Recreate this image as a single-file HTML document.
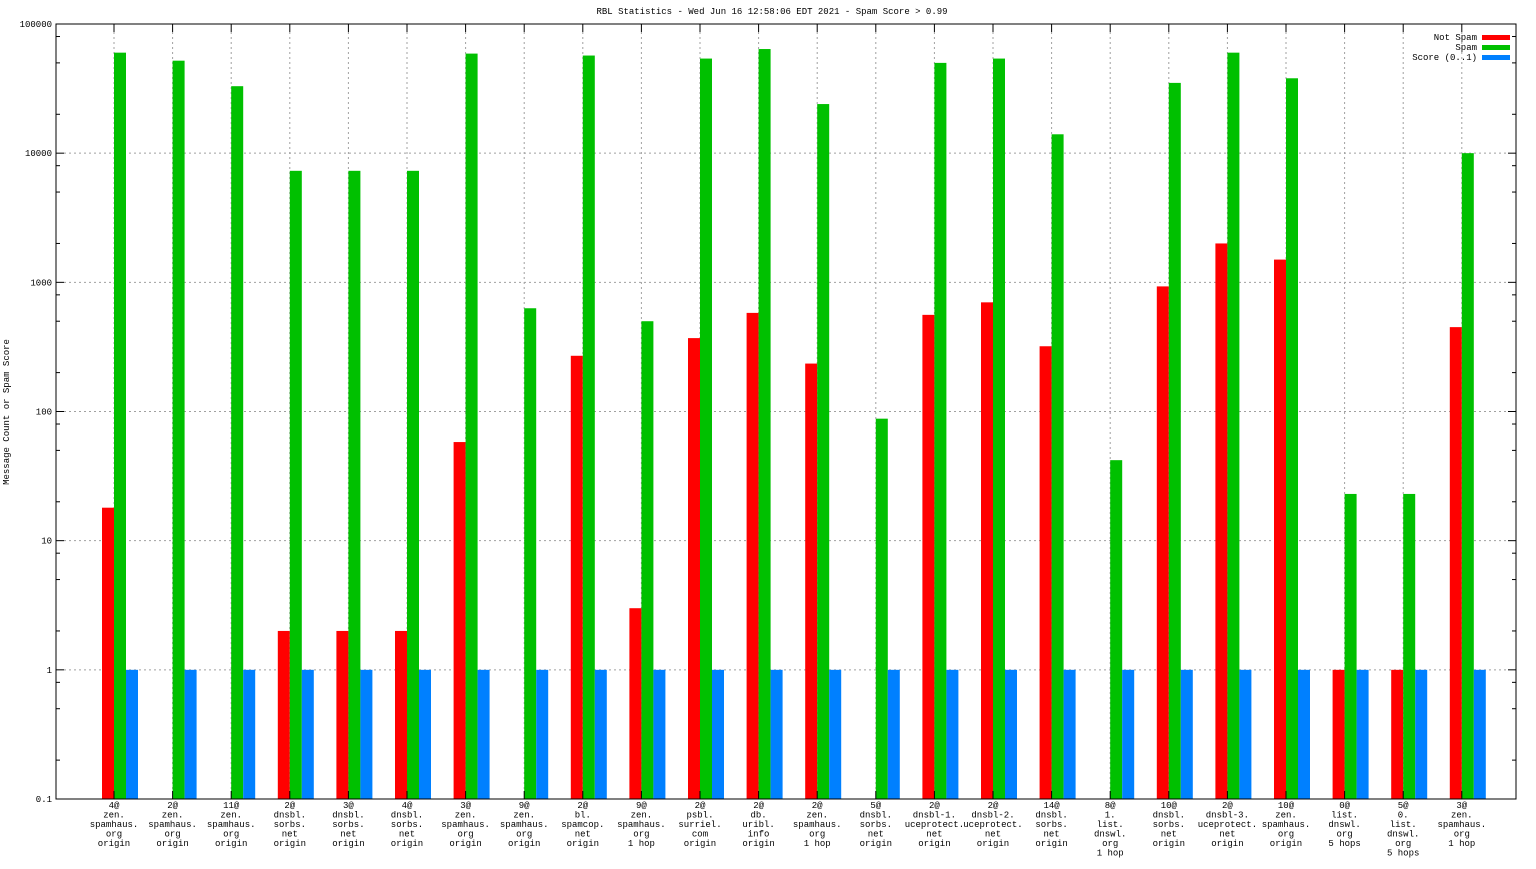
<!DOCTYPE html>
<html><head><meta charset="utf-8"><style>
body{margin:0;background:#fff;}
svg text{font-family:"Liberation Mono","DejaVu Sans Mono",monospace;font-size:9px;fill:#000;}
</style></head><body>
<svg id="chart" width="1536" height="864" xmlns="http://www.w3.org/2000/svg">
<rect width="1536" height="864" fill="#fff"/>
<text x="772" y="14" text-anchor="middle">RBL Statistics - Wed Jun 16 12:58:06 EDT 2021 - Spam Score &gt; 0.99</text>
<text transform="translate(9,412) rotate(-90)" text-anchor="middle">Message Count or Spam Score</text>
<g id="grid"></g><g id="bars"></g><g id="axes"></g>
<g>
<text x="1477" y="40" text-anchor="end">Not Spam</text>
<rect x="1482" y="35" width="28" height="5" fill="#ff0000"/>
<text x="1477" y="50" text-anchor="end">Spam</text>
<rect x="1482" y="45" width="28" height="5" fill="#00c000"/>
<text x="1477" y="60" text-anchor="end">Score (0..1)</text>
<rect x="1482" y="55" width="28" height="5" fill="#0080ff"/>
</g>
</svg>
<script>
const categories=[
["4@","zen.","spamhaus.","org","origin"],["2@","zen.","spamhaus.","org","origin"],["11@","zen.","spamhaus.","org","origin"],
["2@","dnsbl.","sorbs.","net","origin"],["3@","dnsbl.","sorbs.","net","origin"],["4@","dnsbl.","sorbs.","net","origin"],
["3@","zen.","spamhaus.","org","origin"],["9@","zen.","spamhaus.","org","origin"],["2@","bl.","spamcop.","net","origin"],
["9@","zen.","spamhaus.","org","1 hop"],["2@","psbl.","surriel.","com","origin"],["2@","db.","uribl.","info","origin"],
["2@","zen.","spamhaus.","org","1 hop"],["5@","dnsbl.","sorbs.","net","origin"],["2@","dnsbl-1.","uceprotect.","net","origin"],
["2@","dnsbl-2.","uceprotect.","net","origin"],["14@","dnsbl.","sorbs.","net","origin"],["8@","1.","list.","dnswl.","org","1 hop"],
["10@","dnsbl.","sorbs.","net","origin"],["2@","dnsbl-3.","uceprotect.","net","origin"],["10@","zen.","spamhaus.","org","origin"],
["0@","list.","dnswl.","org","5 hops"],["5@","0.","list.","dnswl.","org","5 hops"],["3@","zen.","spamhaus.","org","1 hop"]];
const notSpam=[18,0,0,2,2,2,58,0,270,3,370,580,235,0,560,700,320,0,930,2000,1500,1,1,450];
const spam=[60000,52000,33000,7300,7300,7300,59000,630,57000,500,54000,64000,24000,88,50000,54000,14000,42,35000,60000,38000,23,23,10000];
const score=[1,1,1,1,1,1,1,1,1,1,1,1,1,1,1,1,1,1,1,1,1,1,1,1];
const yTicks=[0.1,1,10,100,1000,10000,100000];
const yTickLabels=["0.1","1","10","100","1000","10000","100000"];
const NS="http://www.w3.org/2000/svg";
const L=56,R=1516,T=24,B=799;
function y(v){return B-(Math.log10(v)+1)/6*(B-T);}
function gx(i){return 120+i*58.6;}
function mk(tag,attrs,parent){const e=document.createElementNS(NS,tag);for(const k in attrs)e.setAttribute(k,attrs[k]);parent.appendChild(e);return e;}
const grid=document.getElementById('grid'),bars=document.getElementById('bars'),axes=document.getElementById('axes');
yTicks.forEach((t,k)=>{const yy=y(t);
 if(k>0&&k<yTicks.length-1){const g=mk('line',{x1:L+8,x2:R-8,y1:yy,y2:yy,stroke:'#a0a0a0','stroke-dasharray':'2,3','stroke-width':1},grid);
 
 }
 const tx=mk('text',{x:L-4,y:yy+3,'text-anchor':'end'},axes);tx.textContent=yTickLabels[k];
 
 
 mk('line',{x1:L,x2:L+8,y1:yy,y2:yy,stroke:'#000'},axes);mk('line',{x1:R,x2:R-8,y1:yy,y2:yy,stroke:'#000'},axes);
 if(k<yTicks.length-1){[2,5,8].forEach(m=>{const my=y(t*m);mk('line',{x1:L,x2:L+4,y1:my,y2:my,stroke:'#000'},axes);mk('line',{x1:R,x2:R-4,y1:my,y2:my,stroke:'#000'},axes);});}
});
categories.forEach((c,i)=>{const cx=gx(i),tx=cx-6;
 const g=mk('line',{x1:tx,x2:tx,y1:T+8,y2:B-8,stroke:'#a0a0a0','stroke-dasharray':'2,3'},grid);
 
 
 mk('line',{x1:tx,x2:tx,y1:B,y2:B-8,stroke:'#000'},axes);mk('line',{x1:tx,x2:tx,y1:T,y2:T+8,stroke:'#000'},axes);
 const t=mk('text',{x:tx,y:808,'text-anchor':'middle'},axes);
 
 
 c.forEach((ln,j)=>{const s=mk('tspan',{x:tx,dy:j?9.5:0},t);s.textContent=ln;});
 [[notSpam[i],'#ff0000',cx-18,'bar-not-spam'],[spam[i],'#00c000',cx-6,'bar-spam'],[score[i],'#0080ff',cx+6,'bar-score']].forEach(([v,col,x0,nm])=>{
  if(v>0){const yy=y(v);const r=mk('rect',{x:x0,y:yy,width:12,height:B-yy,fill:col},bars);
  
  }
 });
});
const fr=mk('rect',{x:L,y:T,width:R-L,height:B-T,fill:'none',stroke:'#000','stroke-width':1},axes);


</script>
</body></html>
